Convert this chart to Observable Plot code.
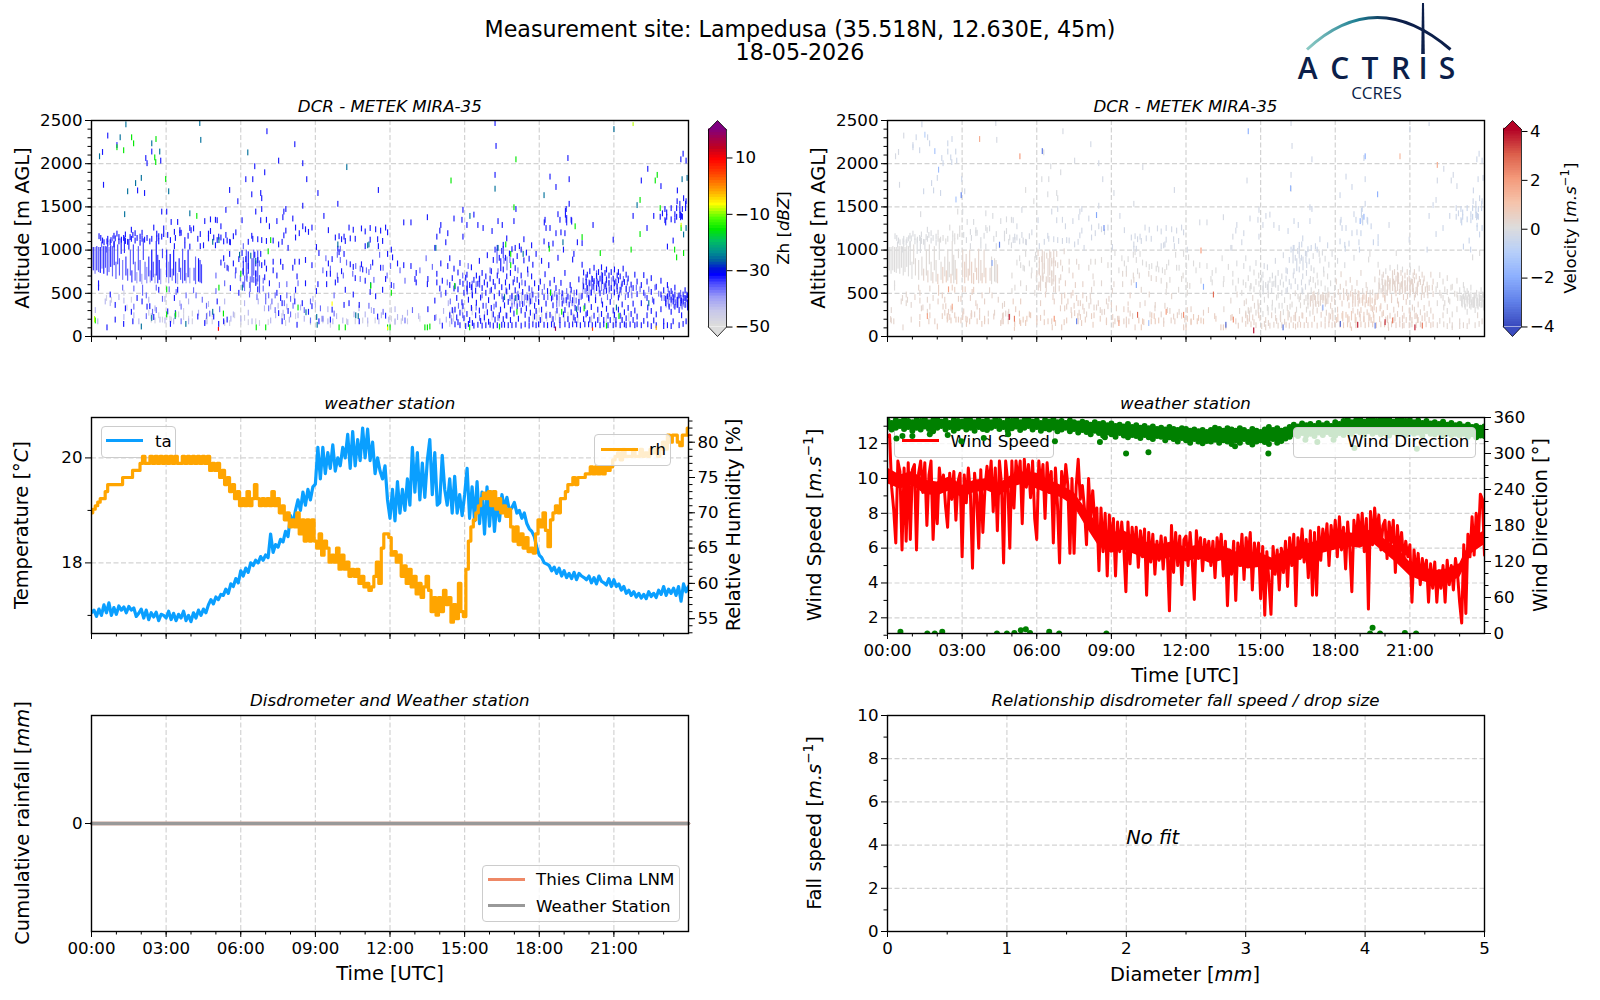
<!DOCTYPE html>
<html><head><meta charset="utf-8">
<script src="https://cdn.jsdelivr.net/npm/d3@7"></script>
<script src="https://cdn.jsdelivr.net/npm/@observablehq/plot@0.6"></script>
<style>
body{margin:0;background:#fff}
#page{position:relative;width:1600px;height:1000px;overflow:hidden;font-family:"DejaVu Sans";color:#000}
#page svg.p{position:absolute}
.t{position:absolute;white-space:nowrap;transform:translate(-50%,-50%)}
.r{transform:translate(-50%,-50%) rotate(-90deg)}
.sub{font-style:italic;font-size:16.67px}
.lab{font-size:19.44px}
.lg{position:absolute;box-sizing:border-box;border:1.2px solid #ccc;border-radius:4px;background:rgba(255,255,255,.8);font-size:16.67px}
.lg i{position:absolute;height:3px;display:block}
.lg span{position:absolute;white-space:nowrap;transform:translateY(-50%)}
sup{font-size:.7em;line-height:0}
</style></head><body><div id="page"></div>
<script>
// ---------- temperature (every 0.1 h) ----------
const taValues=[
17.05,17.1,16.98,17.12,17.0,17.2,17.05,17.24,17.0,17.15,
17.02,17.18,17.1,17.16,17.05,17.17,17.1,17.14,16.98,17.04,
17.12,16.95,17.1,16.92,17.05,16.97,17.06,16.9,17.02,17.0,
16.95,17.08,16.92,17.04,16.9,17.02,16.95,17.08,16.9,17.0,
16.88,17.05,16.95,17.1,17.0,17.12,17.05,17.2,17.3,17.22,
17.35,17.3,17.4,17.38,17.5,17.42,17.6,17.55,17.7,17.62,
17.85,17.75,17.9,17.82,18.0,17.95,18.05,18.0,18.12,18.05,
18.15,18.1,18.55,18.2,18.35,18.3,18.45,18.4,18.6,18.5,
18.9,18.75,19.0,19.2,19.0,19.35,19.1,19.4,19.2,19.45,
19.5,20.2,19.6,20.2,19.7,20.1,19.8,20.25,19.75,20.0,
19.85,20.2,20.0,20.45,19.8,20.5,19.85,20.35,19.95,20.57,
20.0,20.55,19.95,20.3,19.7,20.0,19.75,19.6,19.85,19.2,
18.85,19.4,18.8,19.55,18.95,19.4,19.0,19.6,19.1,20.2,
19.35,20.1,19.2,19.9,19.25,19.95,20.35,19.3,20.1,19.1,
19.15,20.05,19.4,19.1,19.6,18.95,19.65,18.95,19.3,18.9,
19.3,19.8,18.85,19.45,18.8,19.55,18.75,19.35,18.55,19.45,
18.7,19.35,18.6,19.2,18.8,19.3,19.05,19.25,19.0,19.05,
19.15,18.95,19.0,18.85,18.95,18.75,18.65,18.6,18.5,18.3,
18.15,18.1,18.0,17.98,17.95,17.85,17.92,17.8,17.9,17.75,
17.85,17.72,17.8,17.7,17.82,17.68,17.8,17.75,17.72,17.68,
17.75,17.62,17.72,17.6,17.75,17.65,17.62,17.58,17.7,17.55,
17.68,17.55,17.6,17.48,17.55,17.42,17.48,17.38,17.45,17.35,
17.42,17.33,17.4,17.32,17.45,17.36,17.42,17.34,17.48,17.4,
17.55,17.38,17.5,17.42,17.52,17.38,17.55,17.27,17.6,17.45,17.55];
// ---------- relative humidity (every 0.1 h) ----------
const rhValues=[
70,70.5,71,71.5,72,72,73,74,74,74,
74,74,74,75,75,75,75,76,76,76,
77,78,77,77,78,77,78,77,78,77,
78,77,78,77,78,77,77,78,77,78,
77,78,77,78,77,78,77,78,76,77,
76,77,75,76,74,75,73,74,72,73,
71,72,71,73,71,72,74,72,71,72,
71,72,71,73,71,72,70,71,69,70,
68,69,68,70,67,69,66,69,66,69,
66,65,67,64,66,65,63,64,63,65,
62,64,62,63,61,62,61,62,60,61,
59.5,60,59,59.5,61,63,60,65,67,67,
66.5,64,64.5,63,64,61,62.5,60,62,59.5,
61,58.5,60,58,59.5,61,59,56,58,55.5,
58,56,59,57,58,54.5,57,55,60,56,
55.3,62,66,68,69,70,71,72,72.8,72,
73,71,73,70.5,72,70,71,69.5,70.5,68,
66,68,65.5,67,65,66.5,64.5,65,64.3,67,
69,68,70,67.5,65.2,69,70,71,70,72,
72,73,74,74,75,74,75,75,75,75.5,
75.5,76.5,75.5,76.5,75.5,76.5,75.5,76.5,76,76.5,
77.5,78,78.5,77.5,79,78,78,78,79,78,
78,79,78,78.5,78,79,78.5,79,78,79,
80,79,81,80,81,81,80,79.5,81,81,82];
// ---------- wind speed (every 5 min) ----------
const wsValues=[
12.4,12.5,9.5,8.2,6.3,11,10.4,5.9,10.6,6.4,10.9,6.5,
10.5,10.8,5.9,10.3,11,9.2,10.9,7.3,10.2,11,6.5,9.4,
7.4,10.6,9.4,10.2,8.4,7.2,10.3,8.8,10.4,7.6,9.8,10.3,
5.5,10.2,8.6,10.6,9.1,4.85,10.3,9,6,10.5,6.9,9.4,
10.7,9.5,11,8.1,10.6,7,11,9.7,5.15,11,9.8,6,
11,8.3,11,9.8,11,7.4,11.1,9.5,10.8,8.9,11,7.7,
6.5,11,9.5,10.8,7.7,10.9,9.2,10.4,6.3,10.6,8.5,5.15,
10.4,9,10.8,9.6,5.7,10,5.7,9.5,11.1,8.8,9.6,8.3,
6.2,10,7.6,9.3,7.5,8.3,4.7,8.3,5.8,8,4.4,7.9,
6.1,7.7,4.4,7.5,5.8,7.5,6.0,3.5,7.5,5.1,7.2,5.8,
7.2,4.9,7,5.5,7.1,3.3,6.9,5.2,6.8,4.5,6.4,5.3,
6.7,4.8,6.6,5.7,2.4,7.3,4.6,6.9,5.0,6.7,3.9,6.5,
6.7,5,6.9,5.3,3.05,7,5.4,6.6,4.7,6.5,5.6,6.4,
5,6.4,4.3,6.6,5.6,6.8,4.4,6.4,2.7,5.9,4.5,6.4,
3,6.3,5,6.8,4.2,6.6,5.5,6.9,3.6,6.3,5,6.3,
3.1,6.1,2.15,5.8,4.1,2.2,6.1,4.5,5.9,3.6,6,4.6,
6.4,3.8,6.6,5,6.8,2.7,6.6,5.4,7.1,5.2,6.5,4.3,
7,3.3,6.9,3.3,7.2,5.3,7.1,5.9,7.4,5,7.3,6,
7.6,5.5,7.8,5.9,7.2,4.8,7.5,6,3.5,7.6,6.2,7.9,
6.4,8,5.8,7.7,2.5,8.1,6.2,8.3,6.7,7.9,5.9,7.3,
7.6,5.4,7.5,6.3,7.6,4.6,7.3,5.6,6.9,5.2,6.4,5.5,
6.2,2.9,5.9,4.4,5.7,3.9,5.4,4.5,5.3,2.9,5.1,3.7,
5.2,2.9,4.7,3.7,5,2.9,5.3,3.9,5,3.6,5.4,4.5,
2.9,1.7,6.2,2.25,6.8,5.5,7.8,5.6,8,6.4,9.1,8.8,5.6];
// solid core of the wind-speed trace, half-hourly
const wsCoreHi=[10.6,10.2,10.4,9.9,9.8,10.1,9.6,9.9,10,9.7,10.2,10.4,10.3,9.9,9.6,9.2,8.2,7.3,6.9,7,6.6,6.3,6.2,6.4,6,6.2,5.9,6.1,5.8,5.6,5.7,5.4,5.9,6.1,6.3,6.5,6.7,6.9,6.8,7.1,6.5,6,5.2,4.9,4.7,4.8,5.1,6.6,7];
const wsCoreLo=[9.7,9.4,9.6,9.1,9,9.3,8.9,9.2,9.3,9,9.5,9.7,9.4,9.1,8.9,8.4,7.2,6.1,5.7,5.9,5.6,5.3,5.3,5.5,5.2,5.4,5.1,5.3,5,4.8,4.9,4.7,5.2,5.3,5.5,5.7,5.9,6.1,6,6.3,5.7,5.1,4.4,4.1,3.9,4,4.3,5.7,6.2];
// ---------- wind direction: upper and lower edge of the band (every 10 min), its middle (every 15 min), strays ----------
const dirHi=[
355,351,356,353,357,354,352,356,354,357,352,355,357,353,355,351,356,354,353,357,355,352,356,353,
356,352,357,354,351,356,354,357,352,355,357,353,355,351,356,353,357,352,354,351,355,352,350,353,
351,348,352,349,351,347,350,346,348,345,349,344,347,343,346,342,345,341,343,340,344,341,339,342,
341,338,340,337,339,336,339,343,341,338,342,340,338,342,339,336,341,338,336,340,344,339,342,338,
340,344,348,345,350,347,349,346,351,347,350,346,352,349,354,357,352,355,358,353,356,358,354,357,
355,358,353,356,358,354,356,352,355,351,354,350,352,349,353,348,351,347,349,345,348,344,346,343,345];
const dirLo=[
344,340,343,346,341,344,338,343,340,345,341,337,343,346,340,344,338,342,345,340,343,338,344,341,
339,343,346,341,344,338,342,345,339,343,346,340,344,338,342,340,343,337,340,343,337,341,335,339,
336,332,338,334,330,335,332,328,334,330,327,331,329,326,331,327,324,329,328,322,327,324,320,326,
322,318,324,320,317,321,320,323,318,322,320,316,322,318,324,319,315,320,322,319,316,324,318,321,
325,328,332,329,334,330,333,329,335,331,336,332,330,334,331,336,333,338,335,331,337,333,336,332,
334,330,336,332,335,331,336,333,335,330,337,333,332,335,330,334,331,333,330,333,328,332,327,330,329];
const dirMid=[
349,347,350,348,346,350,348,349,351,348,347,349,349,346,350,348,
347,350,348,346,349,351,347,350,350,346,348,347,347,345,346,343,
344,341,342,340,341,338,340,337,338,335,337,333,335,331,333,332,
331,328,330,327,329,332,328,330,330,327,331,328,329,331,328,330,
333,337,339,340,341,338,342,339,341,344,347,345,346,343,345,344,
345,342,346,343,345,342,343,340,342,340,341,339,340,338,337,336,337];
const dirStrayHour=[.36,.6,1,1.7,2.42,2.97,3.87,4.85,6.73,8.54,8.74,9.59,10.49,13.97,15.31,16.8,17.28,17.93,18.77,21.28,.52,1.6,1.9,2.2,4.4,4.8,5.1,5.36,5.56,5.73,6.5,6.9,8.8,19.4,19.5,19.8,20.8,21.25];
const dirStrayDeg=[325,329,329,332,331,320.6,326,332,320.6,319,327,300,302,312,300,323,319,323,309,308,3,0,0,3,0,0,1,5.5,7,1,3,0,0,0,9.5,0,1,0];
// ---------- radar specks [hour, altitude, altitude...] by reflectivity class ----------
const specksBlue=[[.28,610,560],[.3,1155],[.37,1135],[.44,2130,1105],[.48,1750],[.5,1085],[.62,100,1095],[.65,2320,1125,1070],[.75,480,1085],[.78,1110],[.9,1160,1060],[.95,360,190,1130],
[1.02,2210,1185],[1.1,1095,1145],[1.2,1115],[1.29,140,1135],[1.36,320,1175,1100],[1.45,1090],[1.55,1145],[1.6,1230,1125,280],[1.66,170,1170],[1.75,1105,1190],[1.83,440,1135],[1.85,1685],[1.95,1150,1080],
[2.03,400,1125,1195],[2.13,1655,1115],[2.18,2060],[2.23,2000,1135,340],[2.34,345,1095],[2.42,2135,1125],[2.5,1255,220],[2.62,1185,1130],[2.7,535,1095,1155],[2.78,2030],[2.82,1440,1150],[2.9,1245,1180],
[3.02,1440],[3.06,285,1170],[3.17,140,1110],[3.2,1320],[3.33,440,1040,1205],[3.37,265,1135],[3.46,535,1320],[3.55,1190,1225],[3.6,1195],[3.75,1045,1110],[3.88,1160],[3.95,1250,1035],[4,1225],
[4.1,1245],[4.27,225,1125],[4.37,1040,1180],[4.5,1050],[4.55,150,1330],[4.7,1185,1130],[4.78,1215,1350],[4.91,225,1140],[4.98,1345,1050],
[5.05,400,1340,1110],[5.11,140,1150],[5.2,1270,850,1140],[5.31,170,1095,900],[5.4,1460,1170],[5.45,190,1105,790],[5.55,1690,950,1090],[5.58,555,1085],[5.7,1155,840],[5.8,1200,760],[5.88,1560],[5.92,500,890],
[6.05,960,1340],[6.09,595,750],[6.2,1815,890],[6.3,810,1090],[6.44,1640,1160],[6.48,1815,1125],[6.56,1965,940],[6.6,1440,840,720],[6.68,1120,880,540],[6.8,1655,1340,950],[6.84,1595,1470,1110,820],[6.96,1895,850,680],
[7.03,1345,1100,780],[7.05,2370],[7.15,1270,610],[7.3,1105,860,760],[7.45,500,1330,700],[7.52,2030,265,1060],[7.6,860,440],[7.66,170,380,1090],[7.69,1375,800],[7.73,1440,1165],[7.81,1470,1220],[7.9,1020,290],
[8.09,1360,790],[8.17,2220,860,400],[8.2,535,1255,1140],[8.26,130,690],[8.35,1190,860],[8.49,2000,1508,1270],[8.47,380],[8.6,610,1235,880],[8.65,1815],[8.72,1205,280],[8.86,345,1255,820],
[9.04,520,1030],[9.1,1655,600],[9.14,170,960],[9.34,1390],[9.45,600,720],[9.52,1225,840],[9.6,190,720],[9.67,305,890],[9.8,1140,620],[9.9,1530,1010,650],[9.95,970,1155],
[10.05,1120,750],[10.15,360,1150,950],[10.2,535,1100],[10.35,380,1255],[10.4,1130,830],[10.52,1230,800,480],[10.6,1125,670],[10.76,360,170],[10.85,1245,830],[10.9,770],[11,1210,1040,640],
[11.2,1115,1250,510],[11.3,850],[11.42,460,1235],[11.53,1690,1040],[11.5,225,1120],[11.62,1220,790],[11.7,535,1100],[11.82,235,1255,660],[11.9,1200,950],
[12.05,1000,590],[12.1,910],[12.3,840],[12.55,1315,820],[12.84,1315,810],[13,660],[13.05,620,730],[13.5,1375,600],[13.52,660,310],[13.8,1020,410,210],[13.88,1150,720,620],[14,1220,550],[14.04,1285,840],
[14.1,640,120],[14.24,1085,500],[14.32,1190,810],[14.4,900,590,240],[14.5,670,300],[14.57,1360,550,780],
[14.61,135,305,575],[14.68,215,440],[14.73,160,540,735],[14.81,125,270,625,845],[14.89,1345,390],[14.93,1460,1150,345,605],[14.97,205,500],[15.04,115,675],[15.09,1285,255,550,710],[15.15,140,420],[15.2,590,185],[15.27,325,565,795],[15.31,150,470],[15.37,1405,120,650],[15.44,240,525],[15.47,700,385],[15.53,1285,130,605],[15.59,295,660,870],[15.64,175,445],[15.7,120,555,730],[15.74,1250,350],[15.79,215,620],[15.85,125,500,690],[15.91,275,595,935],[15.96,165,415],[16.02,130,665],[16.07,325,535,750],[16.1,1215],[16.15,120,250,625,880],[16.19,455],[16.22,2465,1865,190,575,1000],[16.26,2200,365],[16.31,125,700,1020],[16.34,1330],[16.39,240,495,635,905],[16.44,305],[16.49,130,565,985],[16.51,1285],[16.55,195,425,770,1055],[16.6,130,355],[16.64,620,905],[16.69,235,515,690,1130],[16.75,125,395],[16.8,570,955],[16.84,185,305,730],[16.9,125,460,1005],[16.95,620,865],[16.98,1330,260],[17.03,530,785,1020],[17.06,1470,130],[17.11,345,650,925],[17.16,200,450],[17.2,585,1040],[17.27,120,295,700,1000],[17.33,370,510],[17.38,875,1120],[17.43,135,245,610],[17.48,320,965],[17.53,445,770],[17.59,120,190,550,895],[17.64,270,400],[17.69,690,1050],[17.74,135,480,825],[17.81,225,350,610],[17.87,125,290,950],
[17.97,135,395,555],[18.04,185,630],[18.09,870,305],[18.19,1095,450,130],[18.23,1345,715],[18.27,1250,375,235],[18.33,125,520],[18.38,1055,820],[18.43,1845,1250,245,610],[18.49,135,435],[18.55,1070,355,195],[18.6,650,125],[18.67,1725,1190,555],[18.71,295,445],[18.75,1410,905],[18.83,1345,125,185],[18.87,1200,615],[18.92,375,495],[18.97,1000,250],[19.03,1190,135,300,730],[19.08,1470,1345,415],[19.15,2060,195,455],[19.2,1815,1530,125,365],[19.24,590],[19.28,1345,275,535],[19.34,135,415,885],[19.39,950,215],[19.44,185,325],[19.5,135,505],[19.53,1085,245],[19.59,395,655],[19.65,125,305],[19.72,1075,465,825],[19.78,195,575,735],[19.83,135,345],[19.88,625,680,250],
[19.93,265,555,710],[19.98,135,440],[20.03,190,610,750],[20.09,335,505],[20.13,660,125],[20.16,1285,570],[20.2,235,635,790],[20.26,135,415],[20.3,555,695],[20.35,185,305],[20.38,605,740],[20.44,125,495,665],[20.5,795,255],[20.54,365,635,700],[20.59,135,185],[20.64,575,730],[20.7,315,525,650,770],[20.76,125,235],[20.8,615,700],[20.85,185,395],[20.89,555,740],[20.97,1115,125,295,665],[21.02,245,505,610,770],[21.08,135,185],[21.13,575,700],[21.18,305,445,645,740],[21.25,125,235,535,690],[21.33,185,365,605],[21.37,780],[21.42,135,275,625],[21.49,125,205,545,710],[21.57,325,475,665],[21.65,135],[21.69,255,595],[21.77,1390,185,375,555],[21.84,125,295,710],[21.93,135,225,485,630],
[22.1,1800,125,380,590],[22.2,175,500,705],[22.33,1250,240,630,440],[22.36,1935,135,330],[22.5,115,290,510,670],[22.6,1390,180,400],[22.7,125,250,570],[22.89,1735,310,480,640],[23,115,170,530],[23.08,380,430],[23.15,1035,125,460,590],[23.22,490,340],[23.3,115,280,420,520],[23.38,1105,400,170,450],[23.45,480,560,340],[23.55,1685,420,360],[23.54,1560],[23.62,470,125,300],[23.69,2045,440,380],[23.72,1390,410,240],[23.78,2110,400,480,140],[23.8,1595],[23.86,440,360,530],[23.9,2030,1560,430,170],[23.96,390,470,330],
[22.86,1380],[22.95,1420],[23.05,1470,1340],[23.12,1430,1380],[23.3,1480,1350],[23.45,1340,1410],[23.52,1480,1380],[23.65,1460,1400,1530],[23.75,1470,1380],[23.88,1480,1530]];
const specksMid=[[.4,1060],[.6,1000],[.85,1130],[1.25,560],[1.7,550,340],[2.05,560,500],[2.2,470,230],[2.45,280],[2.6,560,300],[2.85,430],[3.12,540],[3.4,510],[3.6,170,340],[3.8,470],[4.1,530],[4.2,470],[4.45,420],[4.62,350,230],[4.75,260],[5,700,520],[5.15,310],[5.35,610,820],[5.5,780],[5.78,700],[5.98,670],[6.1,1040,880],[6.25,660,700],[6.35,480,590],[6.52,650],[6.65,630,450],[6.75,840,670],[6.9,640,550],[7,400,460],[7.12,470,320],[7.25,400],[7.38,470,300],[7.55,590],[7.75,380,220],[7.85,600,470],[8,430,250],[8.1,350],[8.3,610],[8.55,300],[8.8,400,180],[9.2,320],[9.3,760,200],[9.42,900],[9.6,780],[9.75,470,260],[9.88,940,700],[10,1010,880],[10.12,700],[10.25,850],[10.5,720],[10.62,810],[10.8,660,780],[11.05,760],[11.15,740,350],[11.22,800],[11.35,650,290],[11.58,940],[11.72,790,280],[11.88,700],[12.02,810],[12.15,580],[12.4,760],[12.6,640,180],[12.9,300],[13.2,760],[13.45,900],[13.7,800],[14.05,480],[14.3,620],[14.42,400],[14.48,170],[14.75,350],[14.92,700,240],[15.14,810],[15.3,480],[15.46,330,600],[15.6,210],[15.7,470],[15.86,350],[16.02,520,760],[16.18,340],[16.34,750,210],[16.5,460],[16.58,870],[16.66,530,240],[16.82,880,440],[16.9,350],[17,660,400],[17.14,490,760],[17.22,370],[17.3,620],[17.46,450],[17.54,720],[17.62,460],[17.7,530],[17.86,430],[17.96,470],[18.12,510],[18.2,570],[18.34,450],[18.46,510],[18.54,450],[18.62,490],[18.7,370],[18.8,510],[18.9,450],[18.98,410],[19.1,520],[19.24,440],[19.32,380],[19.4,500],[19.48,410],[19.56,330],[19.68,450],[19.76,640],[19.84,520],[19.92,480],[20,420,620],[20.08,500],[20.18,610],[20.26,450],[20.34,630],[20.42,540],[20.5,410,710],[20.58,510],[20.66,600],[20.74,450],[20.82,540],[20.9,460],[21.06,630],[21.14,520],[21.22,480],[21.3,570],[21.38,660],[21.46,450],[21.54,620],[21.62,540],[21.72,470],[21.9,560],[22.05,540],[22.25,470],[22.4,540],[22.55,420],[22.65,560],[22.8,490],[22.92,440],[23.02,440],[23.18,400,540],[23.25,450],[23.35,490],[23.42,420],[23.48,390],[23.58,460],[23.68,500],[23.74,340],[23.82,440],[23.92,480]];
const specksPale=[[.15,300],[.25,170],[.55,400],[.75,380],[1.1,450],[1.3,410,220],[1.7,240],[1.9,170],[2.3,420],[2.4,230],[2.55,320],[2.75,190],[2.95,430,180],[3.3,170],[3.55,380],[3.9,400,170],[4.3,270],[4.6,170],[4.7,370],[5.35,400],[5.6,200],[5.7,250],[6,200],[6.15,380],[6.3,270],[6.45,170],[6.7,400],[6.95,320],[7.2,340,180],[7.4,240],[7.5,350],[7.7,270],[7.85,340],[7.95,190],[8.15,460],[8.3,240],[8.4,330],[8.55,200],[8.9,430],[9,360],[9.25,200],[9.5,310,170],[9.7,170],[9.85,230],[10.1,180],[10.3,160],[10.55,250],[10.75,320],[11,250],[11.1,180],[11.25,300],[11.55,170],[11.65,240],[11.95,190],[12.2,310,170],[12.3,220],[12.5,210],[12.7,270],[13.15,230],[13.85,220],[14,170],[14.15,290],[14.26,190],[14.34,380],[14.46,210],[14.52,290]];
const specksGrey=[[.6,440],[.8,420],[1.3,500],[1.42,330],[1.6,420],[2.3,270],[2.4,190],[2.55,180],[2.7,240],[2.85,190],[3.02,220],[3.15,200],[3.2,190],[3.5,250],[3.7,290,220],[3.9,200],[4.05,170,260],[4.65,170,240],[4.85,250,170],[5.35,150],[5.55,150],[5.75,240],[6,160],[6.15,210],[6.3,160],[6.6,170],[6.75,150],[7.1,160],[7.65,230],[7.8,150],[8.2,230],[8.8,160],[9.3,180],[9.6,130],[10.25,170],[10.6,170],[10.9,180],[11.1,140],[11.4,180],[12.05,200,300],[12.2,160],[12.45,170],[12.7,170],[13.2,200],[14.4,140,260],[14.55,200,260]];
const specksTeal=[[.32,2080],[1.15,2300],[1.33,1410],[1.38,2450],[1.45,1675],[1.77,1770],[2,1830,110],[2.42,2230,210],[2.74,2135],[3.1,1675],[3.36,230],[3.79,140],[3.95,1420],[4.35,2465],[4.39,2270],[4.87,1090,280],[5.12,1110],[5.95,940],[6.28,2125],[6.4,930],[6.6,870],[6.06,560],[8.62,275],[9.07,130],[9.05,220],[9.9,1060],[10.62,240],[10.72,230],[10.26,1955],[11.15,1060],[11.22,590],[11.1,1050],[13.84,1020],[16.22,1705],[15.21,1390],[16.34,1020],[17.35,950],[18.19,1630],[18.95,1085],[21,2395],[21.93,1515],[22.4,380],[23.94,1830],[23.74,1815],[23.8,1175],[23.9,1250],[16.6,450],[17.05,440],[19.5,310],[21.1,330]];
const specksGreen=[[.15,180],[1.02,2185],[1.29,2150],[1.61,2300],[1.69,2230],[2.54,2067],[2.59,2280],[2.58,2013],[2.98,1817],[3.02,540,250],[3.38,250],[4.23,1390],[5.12,560],[5.3,260],[6.0,720],[6.62,100],[7.0,100],[7.2,1110],[7.1,980],[8.3,330],[9.95,100],[10.2,100],[11.22,580],[11.9,100],[14.45,1800],[13.5,100],[12,100],[12.05,500],[13.6,110],[13.4,100],[17.06,2045],[16.98,1490],[14.6,580],[15.2,100],[16.4,110],[16.65,1060],[16.85,950,820],[18.45,500],[18.4,1010],[19.44,1270],[19.72,1145],[19.8,320],[20.45,960],[21.69,1000],[22.05,1575,1180],[22.66,1800],[22.74,1865],[22.86,1480],[23.44,1000],[23.7,1250],[23.8,960],[23.52,910],[17.1,280],[18.9,280],[20.7,120],[21.2,230]];
// [hour, altitude from, altitude to, dBZ]
const specksOther=[[.12,160,230,-9],[9.67,350,400,-7],[11.9,70,110,-7],[5.1,60,105,9],[18.65,60,110,17],[20.14,60,100,4],[22.7,70,120,-3],[23.7,1260,1310,-8],[21.77,2430,2475,-9]];
const strips=[[0,800,1030,-36],[.07,760,1030,-34],[.14,720,1030,-38],[.21,760,1040,-34],[.28,740,1030,-37],[.35,730,1030,-33],[.42,780,1040,-38],[.49,720,1040,-33],[.56,790,1040,-36],[.63,700,1040,-35],[.7,740,1030,-37],[.77,800,1050,-33],[.84,690,1040,-37],[.91,820,1100,-34],[.98,660,860,-36],
[1.05,830,1060,-35],[1.12,700,900,-36],[1.19,950,1130,-33],[1.25,650,880,-38],[1.32,960,1150,-34],[1.38,700,920,-34],[1.45,640,780,-36],[1.5,1000,1120,-33],[1.56,700,1000,-37],[1.62,620,760,-34],[1.68,830,1060,-35],[1.75,640,860,-36],[1.82,610,740,-40],[1.88,760,1040,-36],[1.95,630,880,-35],[2.02,600,720,-41],[2.08,880,1130,-35],[2.15,650,860,-37],[2.22,610,800,-39],[2.3,690,920,-34],[2.36,620,760,-40],[2.42,640,1000,-32],[2.48,680,860,-35],[2.55,610,720,-41],[2.6,700,1100,-33],[2.66,610,940,-34],[2.72,650,880,-33],[2.78,600,780,-40],[2.85,900,1010,-35],
[3.02,680,1000,-33],[3.1,610,860,-40],[3.16,680,950,-32],[3.24,640,780,-38],[3.3,700,1000,-33],[3.38,610,860,-34],[3.46,600,730,-42],[3.52,740,900,-33],[3.58,650,790,-36],[3.66,610,1010,-36],[3.75,640,880,-32],[3.8,610,730,-42],[3.88,680,1000,-33],[3.95,610,790,-40],[4.12,640,790,-35],[4.18,600,920,-37],[4.3,630,900,-33],[4.36,620,880,-34],[4.42,610,830,-35],
[6.1,700,870,-34],[6.15,520,700,-38],[6.22,640,1000,-36],[6.3,720,980,-33],[6.38,510,690,-37],[6.45,620,900,-34],[6.52,700,1000,-36],[6.6,580,760,-33],[6.68,630,990,-35],[6.75,500,700,-36],
[15.1,480,640,-34],[15.3,500,640,-36],[15.6,560,700,-35],[16.3,840,1010,-36],[16.45,750,900,-33],[16.55,900,1040,-35],[16.7,760,920,-38],[18.2,1280,1350,-33],[19.05,1370,1480,-33],[19.1,1280,1400,-34],[19.3,1290,1370,-33],[23.08,1280,1360,-33],[23.68,1340,1440,-33],
[16.9,360,500,-41],[17,340,470,-42],[17.1,380,510,-40],[17.2,350,470,-42],[17.3,370,510,-41],[17.4,350,480,-40],[17.5,380,510,-42],[17.6,340,470,-43],[17.7,370,500,-42],[18.7,380,510,-42],[18.8,340,470,-43],[18.95,390,520,-41],[19.1,350,480,-42],[19.25,380,520,-42],[19.4,340,470,-44],[19.6,360,490,-42],[19.75,500,620,-40],[19.9,510,660,-39],[20,450,620,-40],[20.1,520,700,-38],[20.2,500,650,-40],[20.3,520,760,-37],[20.4,490,640,-40],[20.5,520,730,-38],[20.6,480,620,-40],[20.7,510,700,-39],[20.8,490,640,-41],[20.9,520,680,-40],[21,480,640,-41],[21.1,510,660,-41],[21.3,470,620,-42],[21.5,480,600,-42],[21.7,470,580,-43],[23.1,330,480,-40],[23.2,330,460,-39],[23.3,340,470,-41],[23.4,320,480,-40],[23.5,330,450,-41],[23.6,330,470,-40],[23.7,320,440,-41],[23.8,340,480,-40],[23.9,330,450,-42],
[17.75,150,270,-47],[17.9,170,300,-46],[18.1,160,260,-47],[18.3,170,290,-46],[18.5,150,250,-47],[18.65,180,290,-47],[18.8,150,260,-46],[19,170,260,-47],[19.15,160,280,-46],[19.35,170,270,-47],[19.55,150,250,-46],[20.1,150,240,-47],[20.4,170,260,-46],[20.7,160,240,-47],[21,170,270,-46],[21.3,150,250,-47],[21.6,170,270,-47],[15.8,160,290,-46],[16.1,180,300,-46],[16.4,170,280,-47],[15.3,240,340,-46],[14.9,260,360,-45]];
// ---------- radar velocity in tenths of m/s, by altitude band and hour ----------
const velBands=[250,500,750,1000,1500,2600];
const velGrid=[
[3,4,5,5,4,6,5,5,5,4,6,4,6,5,4,3,4,4,6,5,4,4,2,2],
[2,3,4,4,3,5,4,4,3,4,3,3,4,2,2,0,1,3,4,5,4,3,1,0],
[0,3,5,5,3,1,3,4,2,2,2,1,1,0,0,-1,-2,0,3,2,3,3,1,0],
[0,1,1,3,1,0,3,2,1,0,0,0,0,0,-1,-2,-3,-1,-1,0,0,0,0,0],
[-1,-1,0,-1,-1,-2,-3,-3,-3,-3,-3,-3,-2,-2,-3,-3,-4,-4,-4,-5,-3,-4,-4,-5],
[-2,-4,-4,-3,-2,0,-1,-2,-3,-2,-2,-3,-3,-3,-3,-4,-3,-4,-4,-4,-2,-4,-3,-4]];
// strong velocity specks: hour, altitude, m/s
const velStrongHour=[5.32,6.22,2.96,4.89,5.1,14.72,15.9,18.2,18.9,19.6,20,21.2,13.6,13.1,12.6,10,12.7,20.6,22.1,19.2,16.2,19.7,19,19.15,8.7,8.4,4.2,4.5,13.9,11.9,10.05,7.6,1.6,2.6,2.45,3.7,1.9,2.05,2.75,14.5,1.5,6.7,9.3,17.5,20.3,21.5,11.2,10.5];
const velStrongAlt=[2080,2140,1630,220,200,65,100,140,130,120,160,100,130,480,990,590,570,2080,1980,2080,1710,1640,1330,1380,1250,1400,845,1057,190,245,245,170,230,340,540,2280,2140,1925,1580,2370,2330,200,150,330,180,120,280,150];
const velStrongV=[2,-3.2,-3,3.8,2.5,4,-3.4,-3.6,3.8,-3.2,3.6,3.8,-3.5,2.8,2,-2.2,-2,1.3,1.6,-2,-1.8,-2,-1.8,-1.8,-2.8,-2.2,-2.2,-3,2.2,2.2,2.9,-3,1.8,1.6,1.8,1.6,-1.4,-1.6,-1.4,-2,-1,2,1.8,-2,2.4,2.4,2,-1.5];
// ---------- scales, ticks, labels ----------
const zStops=[-50,-45,-40,-35,-32,-30,-27,-24,-20,-16,-12,-7,-2,4,9,13,20];
const zColors=["#dcdcdc","#c8c8ea","#9c9cf6","#4848ff","#0000ff","#0014d8","#0060a0","#009090","#00c060","#00e800","#50ff00","#ffff00","#ffa000","#ff4000","#ff0000","#c00020","#800080"];
const vStops=[-4,-3,-2,-1,0,1,2,3,4];
const vColors=["#3b4cc0","#6282ea","#8db0fe","#b7cff9","#dddcdc","#f5c4ac","#f49a7b","#dc5f4b","#b40426"];
const zLevels=d3.range(-50,20,1), vLevels=d3.range(-4,4.08,.1);
const hourTicks=[0,3,6,9,12,15,18,21], hourMinor=d3.range(0,24);
const altTicks=[0,500,1000,1500,2000,2500], altMinor=d3.range(0,2501,100);
const fmtHour=h=>String(h).padStart(2,"0")+":00";
const minus=d=>String(d).replace("-","\u2212");
const FONT="16.67px 'DejaVu Sans'";
const GRID={stroke:"#d3d3d3",strokeOpacity:1,strokeWidth:1.2,strokeDasharray:"5 2.5"};
const page=document.getElementById("page");
const ML=70,MR=70,MT=12,MB=34;
function panel(left,top,w,h,o){
  const el=Plot.plot({width:w+ML+MR,height:h+MT+MB,marginLeft:ML,marginRight:MR,marginTop:MT,marginBottom:MB,
    style:{font:FONT,background:"transparent",overflow:"visible"},...o});
  el.classList.add("p");el.style.left=(left-ML)+"px";el.style.top=(top-MT)+"px";page.appendChild(el);return el;
}
const axX=(labelled)=>[Plot.axisX({ticks:hourTicks,tickSize:6,tickPadding:5,label:null,tickFormat:labelled?fmtHour:()=>""}),Plot.axisX({ticks:hourMinor,tickSize:3.5,label:null,tickFormat:()=>""})];
const axY=(t,m,anchor="left",fmt=minus)=>[Plot.axisY({ticks:t,anchor,tickSize:6,tickPadding:3,label:null,tickFormat:fmt}),Plot.axisY({ticks:m,anchor,tickSize:3.5,label:null,tickFormat:()=>""})];
// ---------- radar specks ----------
const specks=[];
const addCols=(cols,z)=>{for(const [h,...alts] of cols)for(const a of alts)specks.push({h,lo:a-34,hi:a+34,z})};
const addStrips=(rows)=>{for(const s of rows)specks.push({h:s[0],lo:s[1],hi:s[2],z:s[3]})};
addCols(specksGrey,-47);addCols(specksPale,-43);
addStrips(strips.filter(s=>s[3]<-39));
addCols(specksMid,-37);
addStrips(strips.filter(s=>s[3]>=-39));
addCols(specksBlue,-33);addCols(specksTeal,-26);addCols(specksGreen,-16);
addStrips(specksOther);
const velOf=s=>{const m=(s.lo+s.hi)/2;const r=velBands.findIndex(b=>m<b);return velGrid[r<0?5:r][Math.min(23,Math.floor(s.h))]/10};
const velSpecks=specks.map(s=>({...s,v:velOf(s)}));
const velStrong=velStrongHour.map((h,i)=>({h,lo:velStrongAlt[i]-34,hi:velStrongAlt[i]+34,v:velStrongV[i]}));
const X24={domain:[0,24],axis:null};
function radar(left,data,key,stops,colors){
  panel(left,120.4,597,216,{x:X24,y:{domain:[0,2500],axis:null},color:{type:"linear",domain:stops,range:colors,interpolate:"rgb",clamp:true},
    marks:[Plot.gridX(hourTicks.slice(1),GRID),Plot.gridY([500,1000,1500,2000],GRID),
      Plot.rect(data,{x1:"h",x2:d=>d.h+.046,y1:"lo",y2:"hi",fill:key,clip:true}),
      ...axX(false),...axY(altTicks,altMinor),Plot.frame({stroke:"#000",strokeWidth:1.4})]});
}
radar(91.3,specks,"z",zStops,zColors);
radar(887.2,[...velSpecks,...velStrong],"v",vStops,vColors);
// ---------- colour bars ----------
function colorbar(left,levels,step,lo,hi,stops,colors,dom,ticks){
  const c0=colors[0],c1=colors[colors.length-1];
  panel(left,120.4,18,216,{x:{domain:[0,1],axis:null},y:{domain:dom,axis:null},color:{type:"linear",domain:stops,range:colors,interpolate:"rgb",clamp:true},
    marks:[Plot.rect(levels,{x1:0,x2:1,y1:d=>d,y2:d=>d+step*1.3,fill:d=>d}),
      Plot.line([[0,hi],[.5,dom[1]],[1,hi]],{x:"0",y:"1",fill:c1,stroke:"#000",strokeWidth:.8}),
      Plot.line([[0,lo],[.5,dom[0]],[1,lo]],{x:"0",y:"1",fill:c0,stroke:"#000",strokeWidth:.8}),
      Plot.line([[0,lo],[0,hi]],{x:"0",y:"1",stroke:"#000",strokeWidth:.8}),Plot.line([[1,lo],[1,hi]],{x:"0",y:"1",stroke:"#000",strokeWidth:.8}),
      Plot.axisY({ticks,anchor:"right",tickSize:5.5,tickPadding:3,label:null,tickFormat:minus})]});
}
colorbar(707.7,zLevels,1,-50,20,zStops,zColors,[-53.35,23.3],[-50,-30,-10,10]);
colorbar(1503.2,vLevels,.1,-4,4.08,vStops,vColors,[-4.39,4.45],[-4,-2,0,2,4]);
// ---------- HTML helpers ----------
function txt(x,y,html,cls,rot){const d=document.createElement("div");d.className="t "+cls+(rot?" r":"");d.style.left=x+"px";d.style.top=y+"px";d.innerHTML=html;page.appendChild(d);return d;}
function legend(x,y,w,h,items){const d=document.createElement("div");d.className="lg";Object.assign(d.style,{left:x+"px",top:y+"px",width:w+"px",height:h+"px"});
  for(const it of items){if(it.color){const l=document.createElement("i");Object.assign(l.style,{left:(it.lx-x)+"px",top:(it.y-y-1.5)+"px",width:"37px",background:it.color});d.appendChild(l);}
    const s=document.createElement("span");s.textContent=it.text;Object.assign(s.style,{left:(it.tx-x)+"px",top:(it.y-y)+"px"});d.appendChild(s);}
  page.appendChild(d);}
// ---------- temperature / humidity ----------
const TA="#0a9fff",RH="#ffa500",R2Y=417.3;
const taRows=taValues.map((v,i)=>({h:i/10,v})),rhRows=rhValues.map((v,i)=>({h:i/10,v}));
panel(91.3,R2Y,597,216,{x:X24,y:{domain:[16.655,20.77],axis:null},marks:[Plot.gridX(hourTicks.slice(1),GRID),Plot.gridY([18,20],GRID),
  Plot.line(taRows,{x:"h",y:"v",stroke:TA,strokeWidth:3.2,clip:true}),...axX(false),...axY([18,20],[17,19])]});
legend(100.5,426,75.5,31.5,[{color:TA,lx:105,tx:154,y:439.5,text:"ta"}]);
panel(91.3,R2Y,597,216,{x:X24,y:{domain:[52.9,83.5],axis:null},marks:[
  Plot.line(rhRows,{x:"h",y:"v",curve:"step",stroke:RH,strokeWidth:3.2,clip:true}),...axY([55,60,65,70,75,80],d3.range(53,84),"right"),Plot.frame({stroke:"#000",strokeWidth:1.4})]});
legend(594,434,77,31.5,[{color:RH,lx:600,tx:648,y:448,text:"rh"}]);
// ---------- wind ----------
const wsRows=wsValues.map((v,i)=>({h:i/12,v}));
const wsCore=wsCoreHi.map((hi,i)=>({h:i/2,hi,lo:wsCoreLo[i]}));
panel(887.2,R2Y,597,216,{x:X24,y:{domain:[1.1,13.5],axis:null},marks:[Plot.gridX(hourTicks.slice(1),GRID),Plot.gridY([2,4,6,8,10,12],GRID),
  Plot.areaY(wsCore,{x:"h",y1:"lo",y2:"hi",fill:"#ff0000",clip:true}),
  Plot.line(wsRows,{x:"h",y:"v",stroke:"#ff0000",strokeWidth:3,clip:true}),...axX(true),...axY([2,4,6,8,10,12],[1,3,5,7,9,11,13])]});
legend(894,426,160,31.5,[{color:"#ff0000",lx:901,tx:949.5,y:439.5,text:"Wind Speed"}]);
const dirRows=[...dirHi.map((v,i)=>({h:i/6,v})),...dirLo.map((v,i)=>({h:i/6,v})),...dirMid.map((v,i)=>({h:i/4,v})),...dirStrayHour.map((h,i)=>({h,v:dirStrayDeg[i]}))];
const dirBand=dirHi.map((hi,i)=>({h:i/6,hi,lo:dirLo[i]}));
panel(887.2,R2Y,597,216,{x:X24,y:{domain:[0,360],axis:null},marks:[
  Plot.areaY(dirBand,{x:"h",y1:"lo",y2:"hi",fill:"#008000"}),
  Plot.dot(dirRows,{x:"h",y:"v",r:3,fill:"#008000",clip:true}),...axY([0,60,120,180,240,300,360],d3.range(0,361,20),"right"),Plot.frame({stroke:"#000",strokeWidth:1.4})]});
legend(1293,426.5,183,31,[{tx:1346,y:439.5,text:"Wind Direction"}]);
// ---------- rainfall ----------
const R3Y=715.3;
const rainHours=[0,24],thiesRain=[0,0],stationRain=[0,0];
panel(91.3,R3Y,597,216,{x:X24,y:{domain:[-1,1],axis:null},marks:[Plot.gridX(hourTicks.slice(1),GRID),
  Plot.line(rainHours.map((h,i)=>({h,v:thiesRain[i]})),{x:"h",y:"v",stroke:"#ee8866",strokeWidth:3.6}),
  Plot.line(rainHours.map((h,i)=>({h,v:stationRain[i]})),{x:"h",y:"v",stroke:"#999999",strokeWidth:3.6}),
  ...axX(true),Plot.axisY({ticks:[0],tickSize:6,tickPadding:3,label:null,tickFormat:d=>String(d)}),Plot.frame({stroke:"#000",strokeWidth:1.4})]});
legend(482,865,198,57,[{color:"#ee8866",lx:487,tx:535,y:878,text:"Thies Clima LNM"},{color:"#999999",lx:487,tx:535,y:904.5,text:"Weather Station"}]);
// ---------- fall speed ----------
const noFit=[{d:2,v:4,text:"No fit"}];
panel(887.2,R3Y,597,216,{x:{domain:[0,5],axis:null},y:{domain:[0,10],axis:null},marks:[Plot.gridX([1,2,3,4],GRID),Plot.gridY([2,4,6,8],GRID),
  Plot.text(noFit,{x:"d",y:"v",text:"text",textAnchor:"start",lineAnchor:"bottom",fontSize:19.44,fontStyle:"italic",dy:-1}),
  Plot.axisX({ticks:[0,1,2,3,4,5],tickSize:6,tickPadding:5,label:null,tickFormat:d=>String(d)}),Plot.axisX({ticks:d3.range(.5,5,1),tickSize:3.5,label:null,tickFormat:()=>""}),
  ...axY([0,2,4,6,8,10],d3.range(1,10,2)),Plot.frame({stroke:"#000",strokeWidth:1.4})]});
// ---------- texts ----------
txt(800,28.5,"Measurement site: Lampedusa (35.518N, 12.630E, 45m)","",false).style.fontSize="22.2px";
txt(800,52,"18-05-2026","",false).style.fontSize="22.2px";
txt(389.8,105.7,"DCR - METEK MIRA-35","sub");txt(1185.5,105.7,"DCR - METEK MIRA-35","sub");
txt(389.8,402.7,"weather station","sub");txt(1185.5,402.7,"weather station","sub");
txt(389.8,700,"Disdrometer and Weather station","sub");txt(1185.5,700,"Relationship disdrometer fall speed / drop size","sub");
txt(22,228,"Altitude [m AGL]","lab",true);txt(818,228,"Altitude [m AGL]","lab",true);
txt(20.5,525,"Temperature [<i>\u00b0C</i>]","lab",true);txt(733,525,"Relative Humidity [%]","lab",true);
txt(814,525,"Wind Speed [<i>m.s</i><sup>\u22121</sup>]","lab",true);txt(1540,525,"Wind Direction [\u00b0]","lab",true);
txt(21.5,823,"Cumulative rainfall [<i>mm</i>]","lab",true);txt(814,823,"Fall speed [<i>m.s</i><sup>\u22121</sup>]","lab",true);
txt(783,228,"Zh [<i>dBZ</i>]","lab",true).style.fontSize="16.67px";txt(1570,228,"Velocity [<i>m.s</i><sup>\u22121</sup>]","lab",true).style.fontSize="16.67px";
txt(1185,675,"Time [UTC]","lab");txt(390,973,"Time [UTC]","lab");txt(1185,974,"Diameter [<i>mm</i>]","lab");
// ---------- logo ----------
const NAVY="#0c1f4a";
const logo=document.createElement("div");
logo.innerHTML=`<svg width="1600" height="110" style="position:absolute;left:0;top:0">
<defs><linearGradient id="arc" gradientUnits="userSpaceOnUse" x1="1307" x2="1450" y1="0" y2="0"><stop offset="0" stop-color="#8ccac4"/><stop offset=".35" stop-color="#1f7f93"/><stop offset=".6" stop-color="${NAVY}"/><stop offset="1" stop-color="${NAVY}"/></linearGradient></defs>
<path d="M1307,49.5 Q1376,-14.5 1450.5,49.5" fill="none" stroke="url(#arc)" stroke-width="3"/>
<path d="M1422,3 L1424,3 L1424.8,54 L1421.2,54 Z" fill="${NAVY}"/>
<g font-family="'Open Sans'" font-size="30" font-weight="600" fill="${NAVY}" text-anchor="middle">
<text x="1307.7" y="79">A</text><text x="1339.8" y="79">C</text><text x="1370" y="79">T</text><text x="1400.5" y="79">R</text><text x="1423" y="79">I</text><text x="1447" y="79">S</text></g>
<text x="1376.5" y="99" font-family="'Open Sans'" font-size="17" fill="${NAVY}" text-anchor="middle">CCRES</text></svg>`;
page.appendChild(logo);
</script></body></html>
